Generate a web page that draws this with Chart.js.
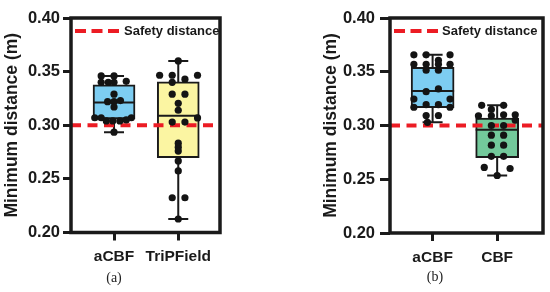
<!DOCTYPE html>
<html>
<head>
<meta charset="utf-8">
<script src="https://cdn.jsdelivr.net/npm/chart.js@4.4.0/dist/chart.umd.min.js"></script>
<style>
  html, body { margin:0; padding:0; background:#fff; }
  #wrap { position:relative; width:550px; height:292px; overflow:hidden; }
  canvas { position:absolute; top:0; }
  .cap { position:absolute; font-family:"Liberation Serif","DejaVu Serif",serif; font-size:14px; color:#222; transform:translate(-50%,-50%); }
</style>
</head>
<body>
<div id="wrap">
  <canvas id="ca" width="275" height="292" style="left:0;width:275px;height:292px"></canvas>
  <canvas id="cb" width="275" height="292" style="left:275px;width:275px;height:292px"></canvas>
  <div class="cap" style="left:114px;top:278px">(a)</div>
  <div class="cap" style="left:435px;top:277px">(b)</div>
</div>
<script>
// ---------- data ----------
const categoriesA = ['aCBF', 'TriPField'];
const categoriesB = ['aCBF', 'CBF'];
const yTickValues = [0.20, 0.25, 0.30, 0.35, 0.40];
const safetyDistance = 0.30;
const legendLabel = 'Safety distance';
const yTitle = 'Minimum distance (m)';

// panel (a) raw points and beeswarm offsets (category units)
const aCBF_a = [0.346, 0.346, 0.340, 0.340, 0.340, 0.341, 0.329, 0.322, 0.322, 0.323, 0.317, 0.307, 0.307, 0.307, 0.304, 0.304, 0.304, 0.305, 0.2935];
const aCBF_a_jit = [-0.20, 0, -0.20, -0.09, 0, 0.19, 0, -0.10, 0, 0.10, 0, -0.30, -0.20, 0.27, -0.12, -0.02, 0.09, 0.19, 0];
const triP_a = [0.360, 0.3466, 0.3466, 0.3466, 0.340, 0.343, 0.329, 0.329, 0.3204, 0.314, 0.3068, 0.303, 0.303, 0.2833, 0.2796, 0.2759, 0.2667, 0.2574, 0.2324, 0.2324, 0.2126];
const triP_a_jit = [0, -0.29, -0.094, 0.30, -0.094, 0.104, -0.094, 0.104, 0, 0, 0.30, -0.094, 0.104, 0, 0, 0, 0, 0, -0.094, 0.104, 0];

// panel (b)
const aCBF_b = [0.3657, 0.3657, 0.3657, 0.3607, 0.357, 0.357, 0.357, 0.357, 0.3515, 0.3515, 0.334, 0.3315, 0.3246, 0.3246, 0.3194, 0.3194, 0.317, 0.317, 0.3093, 0.3093, 0.303];
const aCBF_b_jit = [-0.29, -0.10, 0.27, 0.09, -0.29, -0.10, 0.09, 0.27, -0.10, 0.09, 0.09, -0.10, -0.29, 0.27, -0.10, 0.09, -0.29, 0.27, -0.10, 0.09, -0.08];
const cbf_b = [0.3188, 0.3188, 0.315, 0.309, 0.309, 0.310, 0.310, 0.305, 0.300, 0.300, 0.291, 0.291, 0.2817, 0.2817, 0.2713, 0.2713, 0.261, 0.260, 0.2535];
const cbf_b_jit = [-0.24, 0.10, -0.09, -0.29, -0.09, 0.10, 0.28, 0.28, -0.09, 0.10, -0.09, 0.10, -0.09, 0.10, -0.09, 0.10, -0.20, 0.20, 0];

// box statistics
const statsA = { min:[0.2935, 0.2126], q1:[0.3058, 0.2697], med:[0.3213, 0.3089], q3:[0.3376, 0.3404], max:[0.346, 0.360] };
const statsB = { min:[0.303, 0.2535],  q1:[0.3165, 0.270],  med:[0.332, 0.296],   q3:[0.354, 0.307],   max:[0.3657, 0.3188] };

// ---------- chart builder ----------
const INK = '#1a1a1a';
const FONT = '"Liberation Sans", Arial, Helvetica, sans-serif';

function makeChart(id, cfg) {
  const boxData = cfg.categories.map((c, i) => ({ x: i + 1, y: [cfg.stats.q1[i], cfg.stats.q3[i]] }));
  const dots = [];
  cfg.points.forEach((arr, g) => arr.forEach((v, k) => dots.push({ x: g + 1 + cfg.jitters[g][k], y: v })));

  const parts = {
    id: 'boxParts',
    beforeDatasetsDraw(chart) {
      const { ctx, scales: { x, y } } = chart;
      ctx.save();
      ctx.strokeStyle = INK; ctx.lineWidth = 2;
      cfg.categories.forEach((c, i) => {
        const px = x.getPixelForValue(i + 1);
        const y1 = y.getPixelForValue(cfg.stats.max[i]);
        const y0 = y.getPixelForValue(cfg.stats.min[i]);
        ctx.beginPath();
        ctx.moveTo(px, y1); ctx.lineTo(px, y0);
        ctx.moveTo(px - 10, y1); ctx.lineTo(px + 10, y1);
        ctx.moveTo(px - 10, y0); ctx.lineTo(px + 10, y0);
        ctx.stroke();
      });
      ctx.restore();
    },
    afterDatasetDraw(chart, args) {
      if (args.index !== 2) return;
      const { ctx, scales: { y } } = chart;
      const meta = chart.getDatasetMeta(2);
      ctx.save();
      ctx.strokeStyle = INK; ctx.lineWidth = 2;
      meta.data.forEach((bar, i) => {
        const py = y.getPixelForValue(cfg.stats.med[i]);
        ctx.beginPath();
        ctx.moveTo(bar.x - bar.width / 2, py); ctx.lineTo(bar.x + bar.width / 2, py);
        ctx.stroke();
      });
      ctx.restore();
    },
    afterDraw(chart) {
      const { ctx, chartArea: a } = chart;
      ctx.save();
      ctx.strokeStyle = INK; ctx.lineWidth = 3.5;
      ctx.strokeRect(a.left, a.top, a.right - a.left, a.bottom - a.top);
      // legend
      const ly = a.top + 13;
      ctx.strokeStyle = '#ec1c24'; ctx.lineWidth = 4;
      ctx.setLineDash([11, 5.5]);
      ctx.beginPath(); ctx.moveTo(a.left + 4, ly); ctx.lineTo(a.left + 48, ly); ctx.stroke();
      ctx.setLineDash([]);
      ctx.fillStyle = INK; ctx.font = 'bold 13px ' + FONT;
      ctx.textBaseline = 'middle'; ctx.textAlign = 'left';
      ctx.fillText(legendLabel, a.left + cfg.legendTextDx, ly + 0.5);
      ctx.restore();
    }
  };

  return new Chart(document.getElementById(id), {
    type: 'bar',
    data: {
      datasets: [
        { type: 'scatter', data: dots, pointRadius: 3.6, pointHoverRadius: 3.6, backgroundColor: '#141414', borderWidth: 0 },
        { type: 'line', data: [{ x: cfg.xMin, y: safetyDistance }, { x: cfg.xMax, y: safetyDistance }],
          borderColor: '#ec1c24', borderWidth: 4, borderDash: [10, 6.5], pointRadius: 0, fill: false },
        { type: 'bar', data: boxData, backgroundColor: cfg.colors, borderColor: INK, borderWidth: 2,
          borderSkipped: false, barThickness: cfg.barW }
      ]
    },
    options: {
      responsive: false, animation: false, events: [],
      layout: { padding: cfg.pad },
      plugins: { legend: { display: false }, tooltip: { enabled: false } },
      scales: {
        x: {
          type: 'linear', min: cfg.xMin, max: cfg.xMax, offset: false, grace: 0,
          afterBuildTicks: s => { s.ticks = cfg.categories.map((c, i) => ({ value: i + 1 })); },
          afterFit: s => { s.height = cfg.xAxisH; },
          ticks: { callback: v => cfg.categories[Math.round(v) - 1], color: INK, padding: 7,
                   font: { family: FONT, size: 15.5, weight: 'bold' }, maxRotation: 0, autoSkip: false },
          grid: { offset: false, drawOnChartArea: false, drawTicks: true, tickLength: 8, tickWidth: 3, tickColor: INK },
          border: { display: false }
        },
        y: {
          min: 0.2, max: 0.4,
          afterBuildTicks: s => { s.ticks = yTickValues.map(v => ({ value: v })); },
          afterFit: s => { s.width = 71; },
          ticks: { callback: v => v.toFixed(2), color: INK, padding: cfg.tickPad,
                   font: { family: FONT, size: 16.5, weight: 'bold' } },
          grid: { drawOnChartArea: false, drawTicks: true, tickLength: cfg.tickLen, tickWidth: 3, tickColor: INK },
          border: { display: false },
          title: { display: true, text: yTitle, color: INK, padding: { top: 2, bottom: 0 },
                   font: { family: FONT, size: 17.5, weight: 'bold' } }
        }
      }
    },
    plugins: [parts]
  });
}

makeChart('ca', {
  categories: categoriesA, stats: statsA,
  points: [aCBF_a, triP_a], jitters: [aCBF_a_jit, triP_a_jit],
  colors: ['#7dcdf2', '#fbf5a2'],
  xMin: 0.33, xMax: 2.65, barW: 42,
  pad: { left: 0, right: 55, top: 18, bottom: 0 }, xAxisH: 59.5,
  tickLen: 8, tickPad: 3, legendTextDx: 53
});
makeChart('cb', {
  categories: categoriesB, stats: statsB,
  points: [aCBF_b, cbf_b], jitters: [aCBF_b_jit, cbf_b_jit],
  colors: ['#7dcdf2', '#73c99b'],
  xMin: 0.34, xMax: 2.71, barW: 43,
  pad: { left: 44, right: 7, top: 18, bottom: 0 }, xAxisH: 59,
  tickLen: 10, tickPad: 5, legendTextDx: 52
});
</script>
</body>
</html>
